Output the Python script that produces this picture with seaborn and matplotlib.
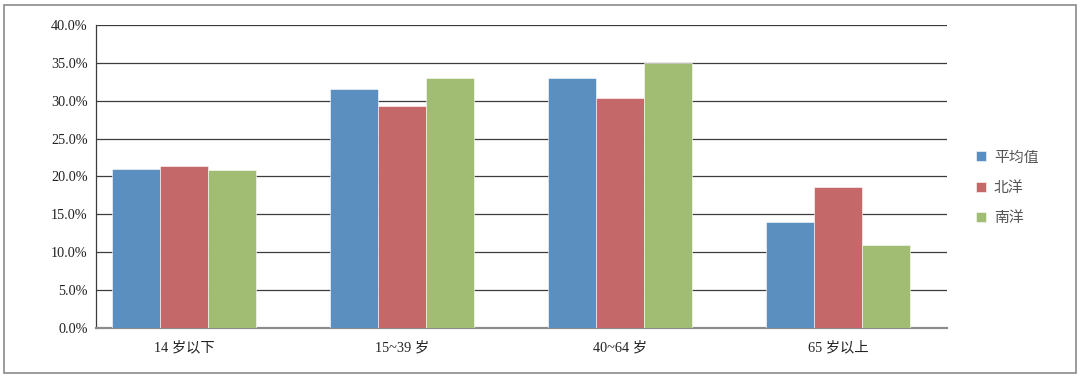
import pandas as pd
import matplotlib.pyplot as plt
import seaborn as sns
from matplotlib.patches import Rectangle
from matplotlib.ticker import FixedLocator, FuncFormatter

# 年龄段与各地区占比 (%)
groups = ["14 岁以下", "15~39 岁", "40~64 岁", "65 岁以上"]
series = ["平均值", "北洋", "南洋"]
avg_vals = [21.05, 31.5, 33.0, 14.05]
north_vals = [21.45, 29.35, 30.3, 18.6]
south_vals = [20.9, 33.0, 35.0, 10.9]
colors = ["#5B8FC0", "#C4686A", "#A1BC73"]

if __name__ == "__main__":
    df = pd.DataFrame({
        "group": groups * 3,
        "series": [series[0]] * 4 + [series[1]] * 4 + [series[2]] * 4,
        "value": avg_vals + north_vals + south_vals,
    })

    sns.set_style("white")
    plt.rcParams["font.family"] = ["Liberation Serif", "Noto Sans CJK SC"]

    fig = plt.figure(figsize=(10.8, 3.78), dpi=100)
    ax = fig.add_axes([96 / 1080, 1 - 328 / 378, 851 / 1080, 303 / 378])

    sns.barplot(ax=ax, data=df, x="group", y="value", hue="series",
                palette=colors, width=0.66, saturation=1,
                edgecolor="white", linewidth=0.4, zorder=3)

    # 第一类别在纵轴左侧被截去一部分
    x_left = -0.5 + 21 / 218
    ax.set_ylim(0, 40)
    ax.set_xlim(x_left, 3.5)
    ax.set_yticks(range(0, 41, 5))
    ax.yaxis.set_major_formatter(FuncFormatter(lambda v, p: f"{v:.1f}%"))
    ax.grid(axis="y", color="#3c3c3c", linewidth=0.9, zorder=0)
    ax.set_axisbelow(True)
    ax.set_xlabel("")
    ax.set_ylabel("")

    for side in ["top", "right"]:
        ax.spines[side].set_visible(False)
    ax.spines["left"].set_color("#3c3c3c")
    ax.spines["left"].set_linewidth(0.9)
    ax.spines["bottom"].set_color("#8c8c8c")
    ax.spines["bottom"].set_linewidth(1.6)

    ax.tick_params(axis="y", length=0, labelsize=10.3, pad=6, colors="#222222")
    ax.tick_params(axis="x", which="major", length=0, labelsize=10.3, pad=9, colors="#222222")
    ax.xaxis.set_minor_locator(FixedLocator([x_left, 0.5, 1.5, 2.5, 3.5]))
    ax.tick_params(axis="x", which="minor", length=5, width=0.9, color="#3c3c3c", direction="out")

    handles, labels = ax.get_legend_handles_labels()
    ax.legend(handles, labels, loc="center left", bbox_to_anchor=(0.8915, 0.503),
              bbox_transform=fig.transFigure, frameon=False,
              handlelength=0.65, handleheight=0.65, handletextpad=0.55,
              labelspacing=1.1, prop={"family": "Noto Sans CJK SC", "size": 10.7},
              labelcolor="#555555")

    fig.add_artist(Rectangle((4 / 1080, 5 / 378), 1072 / 1080, 368 / 378,
                             transform=fig.transFigure, fill=False,
                             edgecolor="#8a8a8a", linewidth=1.2))

    fig.savefig("out.png", dpi=100)
    plt.close()
